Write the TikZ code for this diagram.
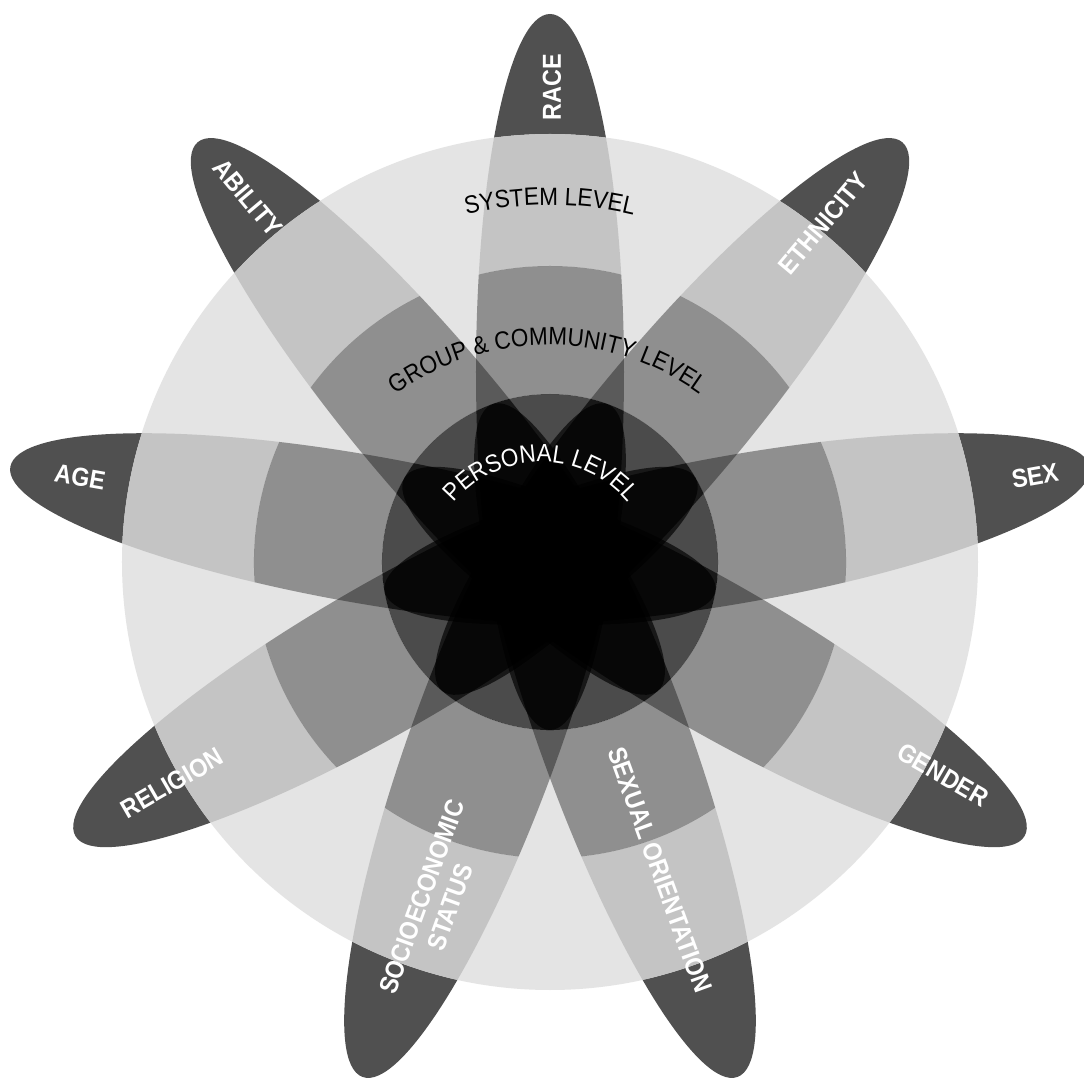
\documentclass[tikz,border=0pt]{standalone}
\usepackage{fontspec}
\setmainfont{Liberation Sans}
\newfontfamily\lblfamily{Liberation Sans}[FakeStretch=0.9]
\usetikzlibrary{decorations.text}
\definecolor{sysbg}{HTML}{E4E4E4}
\definecolor{bandc}{HTML}{C4C4C4}
\definecolor{tipc}{HTML}{505050}
\newcommand\petallabelfont{\lblfamily\bfseries\fontsize{26}{30}\selectfont}
\newcommand\levelfont{\lblfamily\fontsize{25}{30}\selectfont}
\tikzset{
  petallabel/.style={text=white, font=\petallabelfont, inner sep=0pt},
  tipfill/.style={fill=tipc, even odd rule},
  bandfill/.style={fill=bandc, even odd rule},
  groupfill/.style={fill=black, opacity=0.37, even odd rule},
  personalfill/.style={fill=black, opacity=0.67},
}
\begin{document}
\begin{tikzpicture}[x=1pt,y=1pt]
\useasboundingbox (-550,-516) rectangle (534,562);
\fill[white] (-550,-516) rectangle (534,562);
% system level disc
\fill[sysbg] (0,0) circle [radius=428];
% petals
\foreach \a in {90,50,10,-30,-70,-110,-150,170,130}{
  \begin{scope}[rotate=\a]
    \clip (190,0) ellipse [x radius=358, y radius=74];
    \fill[tipfill] (0,0) circle [radius=700] (0,0) circle [radius=428];
    \fill[bandfill] (0,0) circle [radius=428] (0,0) circle [radius=296];
    \fill[groupfill] (0,0) circle [radius=296] (0,0) circle [radius=168];
    \fill[personalfill] (0,0) circle [radius=168];
  \end{scope}
}
% level labels
\path[decorate, decoration={text along path, text align=center,
  text={|\levelfont|SYSTEM LEVEL}}]
  (-357,0) arc [start angle=180, end angle=0, radius=357];
\path[decorate, decoration={text along path, text align=center,
  text={|\levelfont|GROUP {\&} COMMUNITY LEVEL}}]
  (-262,-43) arc [start angle=180, end angle=0, radius=260];
\path[decorate, decoration={text along path, text align=center, text color=white,
  text={|\levelfont|PERSONAL LEVEL}}]
  (-122,-13) arc [start angle=180, end angle=0, radius=113];
% petal labels
\node[petallabel, rotate=90] (race) at (2,475) {RACE};
\node[petallabel, rotate=50] (ethnicity) at (273,339) {ETHNICITY};
\node[petallabel, rotate=10] (sex) at (485,86) {SEX};
\node[petallabel, rotate=-30] (gender) at (393,-213) {GENDER};
\node[petallabel, rotate=-70] (sexor) at (110,-308) {SEXUAL ORIENTATION};
\node[petallabel, rotate=70, align=center] (socio) at (-114,-340) {SOCIOECONOMIC\\STATUS};
\node[petallabel, rotate=30] (religion) at (-378,-221) {RELIGION};
\node[petallabel, rotate=-10] (age) at (-470,85) {AGE};
\node[petallabel, rotate=-50] (ability) at (-302,364) {ABILITY};
\end{tikzpicture}
\end{document}
